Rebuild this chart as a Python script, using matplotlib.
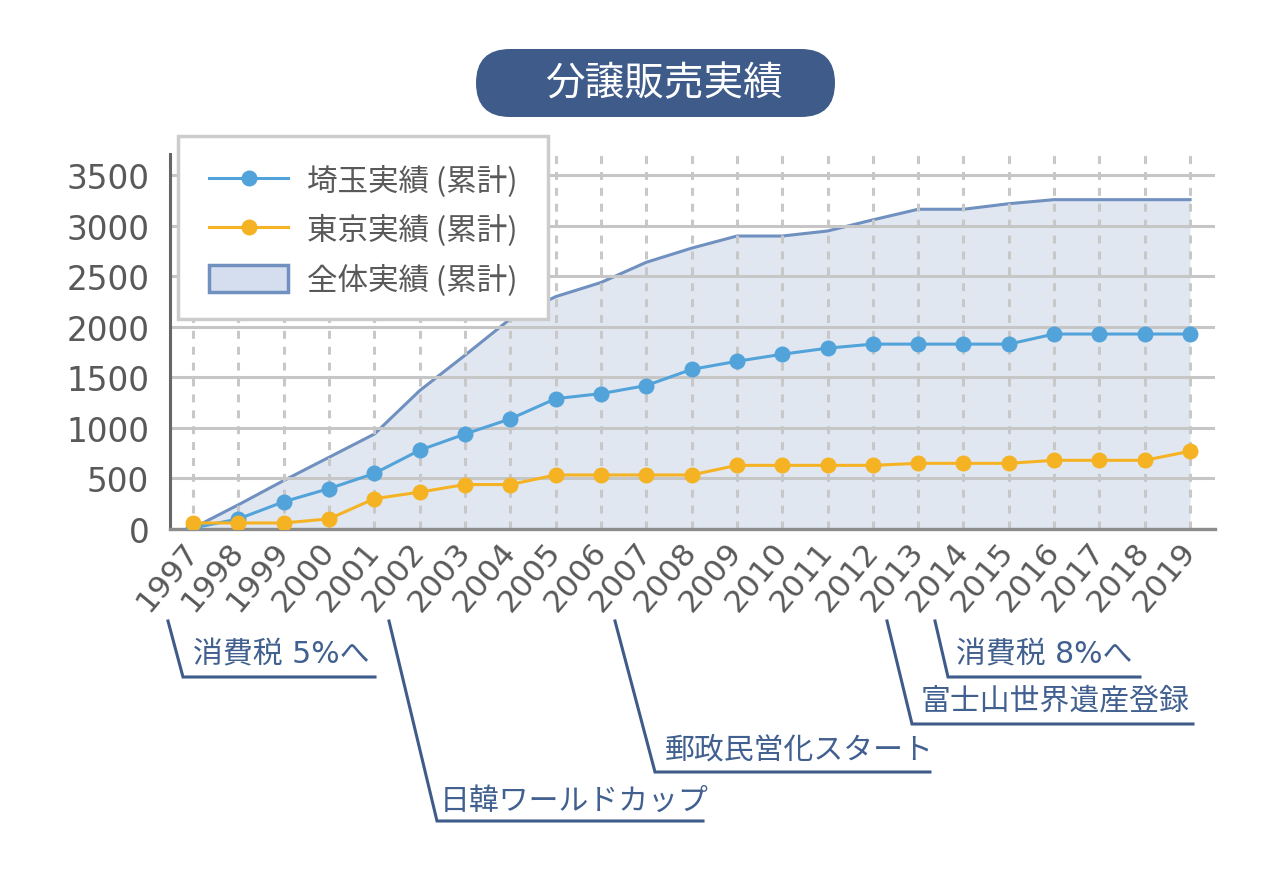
import matplotlib.pyplot as plt
from matplotlib.lines import Line2D
from matplotlib.patches import Patch, FancyBboxPatch, Rectangle

plt.rcParams['font.family'] = ['DejaVu Sans', 'Noto Sans CJK JP']

# 年と累計実績
years = list(range(1997, 2020))
saitama = [10, 100, 270, 400, 550, 780, 940, 1090, 1290, 1340, 1420, 1580,
           1660, 1730, 1790, 1830, 1830, 1830, 1830, 1930, 1930, 1930, 1930]
tokyo = [60, 60, 60, 100, 300, 365, 440, 440, 535, 535, 535, 535,
         630, 630, 630, 630, 650, 650, 650, 680, 680, 680, 770]
total = [10, 240, 480, 710, 940, 1370, 1720, 2080, 2300, 2440, 2640, 2780,
         2900, 2900, 2950, 3060, 3165, 3165, 3220, 3260, 3260, 3260, 3260]

labels = ['埼玉実績 (累計)', '東京実績 (累計)', '全体実績 (累計)']
events = ['消費税 5%へ', '日韓ワールドカップ', '郵政民営化スタート',
          '富士山世界遺産登録', '消費税 8%へ']
event_years = [1997, 2002, 2007, 2013, 2014]

blue = '#52a3da'
orange = '#f5b324'
fill_c = '#e1e7f1'
edge_c = '#7090c0'
navy = '#3e5b8a'
grey_txt = '#595959'

fig = plt.figure(figsize=(12.8, 8.7), dpi=100)
ax = fig.add_axes([170 / 1280, 1 - 530 / 870, 1045 / 1280, 375 / 870])

ax.fill_between(years, total, 0, color=fill_c, lw=0, zorder=1)
ax.plot(years, total, color=edge_c, lw=2.2, zorder=1.2)
ax.plot(years, saitama, color=blue, lw=2.2, marker='o', markersize=10.5, zorder=3)
ax.plot(years, tokyo, color=orange, lw=2.2, marker='o', markersize=10.5, zorder=3)

ax.set_xlim(1996.49, 2019.55)
ax.set_ylim(0, 3712)
ax.set_yticks(range(0, 3501, 500))
ax.set_xticks(years)
ax.set_xticklabels([str(y) for y in years], rotation=50, ha='right',
                   va='center', rotation_mode='anchor')

ax.set_axisbelow('line')
ax.grid(axis='y', color='#c6c6c6', lw=2.2)
ax.grid(axis='x', color='#c8c8c8', lw=2.2, linestyle=(0, (2.6, 2.6)))

ax.tick_params(axis='y', length=0, pad=15, labelsize=23.5, labelcolor=grey_txt)
ax.tick_params(axis='x', length=0, pad=12, labelsize=22.5, labelcolor=grey_txt)

for s in ['top', 'right']:
    ax.spines[s].set_visible(False)
ax.spines['left'].set_color('#666666')
ax.spines['left'].set_linewidth(2.2)
ax.spines['bottom'].set_color('#8c8c8c')
ax.spines['bottom'].set_linewidth(2.4)

# 上に重ねるピクセル座標の軸（凡例・タイトル・出来事）
ov = fig.add_axes([0, 0, 1, 1])
ov.set_xlim(0, 1280)
ov.set_ylim(870, 0)
ov.axis('off')

ov.add_patch(Rectangle((178, 137), 370, 183, facecolor='white',
                       edgecolor='#cccccc', lw=2.5, zorder=4))
handles = [
    Line2D([], [], color=blue, lw=2.2, marker='o', markersize=10.5),
    Line2D([], [], color=orange, lw=2.2, marker='o', markersize=10.5),
    Patch(facecolor='#d5deee', edgecolor=edge_c, lw=2.5),
]
leg = ov.legend(handles, labels, loc='upper left',
                bbox_to_anchor=(209 / 1280, 1 - 166 / 870),
                bbox_transform=fig.transFigure, borderaxespad=0, borderpad=0,
                frameon=False,
                prop={'family': ['Noto Sans CJK JP', 'DejaVu Sans'], 'size': 22},
                handlelength=2.6, handleheight=1.0,
                handletextpad=0.62, labelspacing=0.57,
                labelcolor=grey_txt)
leg.set_zorder(5)

ov.add_patch(FancyBboxPatch((476, 50), 359, 68,
                            boxstyle='round,pad=0,rounding_size=34',
                            facecolor=navy, edgecolor='none'))
ov.text(664, 84, '分譲販売実績', color='white', fontsize=28.5,
        ha='center', va='center')

# 出来事の引き出し線
lines = [
    [(168, 622), (183, 678), (375, 678)],
    [(389, 622), (437, 822), (703, 822)],
    [(615, 622), (655, 773), (930, 773)],
    [(887, 622), (912, 725), (1193, 725)],
    [(935, 622), (948, 678), (1140, 678)],
]
text_pos = [(193, 655), (440, 801), (665, 750), (921, 701), (956, 655)]

for pts, (tx, ty), ev in zip(lines, text_pos, events):
    xs = [p[0] for p in pts]
    ys = [p[1] for p in pts]
    ov.plot(xs, ys, color=navy, lw=2.2, solid_joinstyle='miter')
    ov.text(tx, ty, ev, color='#41608f', fontsize=21.5, ha='left', va='center')

fig.savefig('out.png', dpi=100)
